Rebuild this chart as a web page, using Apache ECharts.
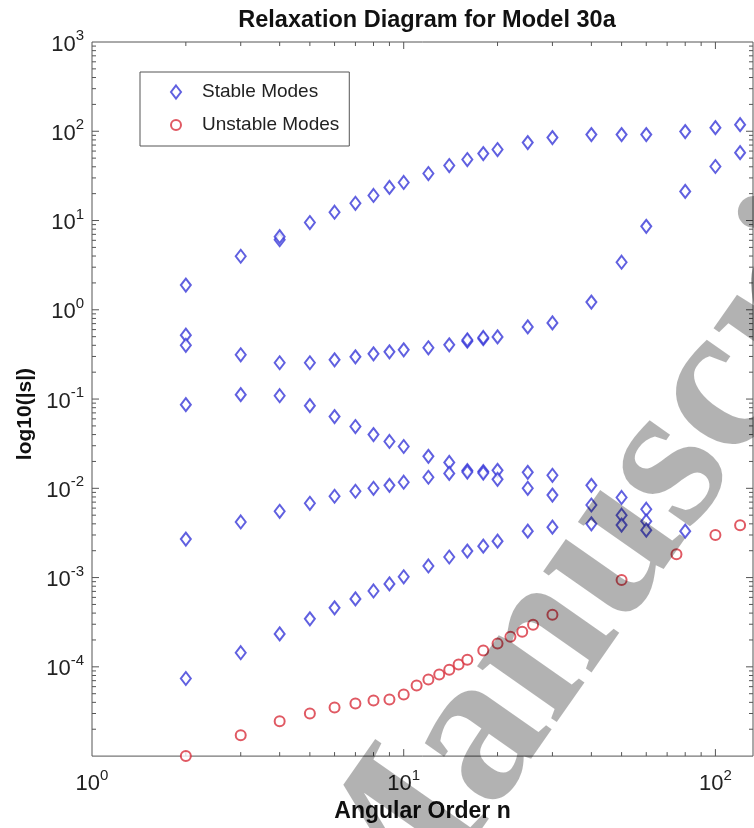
<!DOCTYPE html>
<html>
<head>
<meta charset="utf-8">
<script src="https://cdn.jsdelivr.net/npm/echarts@6/dist/echarts.min.js"></script>
<style>html,body{margin:0;padding:0;background:#fff;}#c{width:754px;height:828px;}</style>
</head>
<body>
<div id="c"></div>
<script>
// ---- data ----
const nA = [2,3,4,4,5,6,7,8,9,10,12,14,16,18,20,25,30,40,50,60,80,100,120];
const sA = [1.89,3.98,6.1,6.6,9.5,12.4,15.6,19.1,23.5,26.7,33.6,41.3,48.2,56.2,62.4,74.7,84.9,91.7,91.7,91.7,99.1,109.7,118.6];

const nB = [2,2,3,4,5,6,7,8,9,10,12,14,16,16,18,18,20,25,30,40,50,60,80,100,120];
const sB = [0.52,0.40,0.313,0.255,0.255,0.275,0.297,0.321,0.338,0.356,0.375,0.405,0.445,0.46,0.475,0.49,0.497,0.643,0.713,1.22,3.41,8.6,21.2,40.3,57.6];

const nC = [2,3,4,5,6,7,8,9,10,12,14,16,18,20,25,30,40,50,60,80];
const sC = [0.0865,0.112,0.109,0.0843,0.0636,0.0492,0.040,0.0335,0.0294,0.0228,0.0195,0.0158,0.0154,0.0159,0.0151,0.0140,0.0108,0.0079,0.00583,0.00331];

const nD = [2,3,4,5,6,7,8,9,10,12,14,16,18,20,25,30,40,50,60];
const sD = [0.0027,0.0042,0.00553,0.0068,0.00815,0.00927,0.0100,0.0108,0.0117,0.0133,0.0147,0.0152,0.0148,0.0126,0.0100,0.0084,0.0065,0.0050,0.00428];

const nE = [2,3,4,5,6,7,8,9,10,12,14,16,18,20,25,30,40,50,60];
const sE = [7.4e-5,1.44e-4,2.34e-4,3.45e-4,4.58e-4,5.77e-4,7.08e-4,8.49e-4,1.02e-3,1.35e-3,1.70e-3,1.98e-3,2.25e-3,2.56e-3,3.31e-3,3.67e-3,4.0e-3,3.87e-3,3.4e-3];

const nU = [2,3,4,5,6,7,8,9,10,11,12,13,14,15,16,18,20,22,24,26,30,50,75,100,120];
const sU = [1.0e-5,1.71e-5,2.45e-5,3.0e-5,3.5e-5,3.88e-5,4.2e-5,4.31e-5,4.9e-5,6.17e-5,7.2e-5,8.2e-5,9.3e-5,1.06e-4,1.2e-4,1.52e-4,1.82e-4,2.17e-4,2.47e-4,2.96e-4,3.83e-4,9.4e-4,1.83e-3,2.99e-3,3.86e-3];

const xDecades = [1,10,100];
const yDecades = [1e-5,1e-4,1e-3,1e-2,1e-1,1,10,100,1000];
const X_MIN = 1, X_MAX = 132;
const Y_MIN = 1e-5, Y_MAX = 1e3;

// ---- build ----
function pairs(n, s){ return n.map((v,i)=>[v, s[i]]); }
const stableData = [].concat(pairs(nA,sA), pairs(nB,sB), pairs(nC,sC), pairs(nD,sD), pairs(nE,sE));
const unstableData = pairs(nU, sU);

// axis ticks (major + minor 2..9 per decade)
const tickData = [];
xDecades.forEach(d=>{
  for(let k=1;k<=9;k++){ const v=d*k; if(v>X_MIN && v<X_MAX) tickData.push([v, Y_MIN, 0, k===1?1:0]); }
});
yDecades.forEach(d=>{
  for(let k=1;k<=9;k++){ const v=d*k; if(v>Y_MIN && v<Y_MAX) tickData.push([X_MIN, v, 1, k===1?1:0]); }
});

function expLabel(v){
  const e = Math.round(Math.log10(v));
  if (Math.abs(Math.log10(v)-e) > 1e-6) return '';
  return '{b|10}{s|' + e + '}';
}
const labelRich = {
  b: {fontSize: 22, fontFamily: 'Liberation Sans', color: '#222', lineHeight: 27, verticalAlign: 'bottom'},
  s: {fontSize: 15, fontFamily: 'Liberation Sans', color: '#222', lineHeight: 15, verticalAlign: 'top'}
};

const chart = echarts.init(document.getElementById('c'), null, {renderer: 'canvas'});
const TICK_COLOR = '#555';
chart.setOption({
  animation: false,
  backgroundColor: '#fff',
  title: {
    text: 'Relaxation Diagram for Model 30a',
    left: 422, top: 4, textAlign: 'center',
    textStyle: {fontFamily: 'Liberation Sans', fontSize: 23.5, fontWeight: 'bold', color: '#111'}
  },
  legend: {
    orient: 'vertical', left: 140, top: 72,
    padding: [10, 10, 11, 30],
    itemWidth: 10, itemHeight: 13, itemGap: 13,
    borderColor: '#555', borderWidth: 1, backgroundColor: '#fff',
    textStyle: {fontFamily: 'Liberation Sans', fontSize: 19, color: '#222', lineHeight: 20, padding: [0,0,0,16]},
    data: ['Stable Modes', 'Unstable Modes']
  },
  grid: {left: 92, right: 1, top: 42, bottom: 69, show: true, borderColor: '#555', borderWidth: 1, containLabel: false},
  xAxis: {
    type: 'log', min: X_MIN, max: X_MAX, logBase: 10,
    name: 'Angular Order n', nameLocation: 'middle', nameGap: 39,
    nameTextStyle: {fontFamily: 'Liberation Sans', fontSize: 23, fontWeight: 'bold', color: '#111'},
    axisLine: {show: false}, axisTick: {show: false}, splitLine: {show: false}, minorTick: {show: false},
    axisLabel: {margin: 12, formatter: expLabel, rich: labelRich, showMaxLabel: false}
  },
  yAxis: {
    type: 'log', min: Y_MIN, max: Y_MAX, logBase: 10,
    name: 'log10(|s|)', nameLocation: 'middle', nameGap: 56, nameRotate: 90,
    nameTextStyle: {fontFamily: 'Liberation Sans', fontSize: 21, fontWeight: 'bold', color: '#111', padding: [0, 30, 0, 0]},
    axisLine: {show: false}, axisTick: {show: false}, splitLine: {show: false},
    axisLabel: {margin: 8, formatter: expLabel, rich: labelRich, showMinLabel: false}
  },
  series: [
    {
      type: 'custom', name: 'ticks', silent: true, clip: false, z: 1,
      encode: {x: 0, y: 1},
      data: tickData,
      renderItem: function(params, api){
        const kind = api.value(2), major = api.value(3);
        const len = major ? 7 : 4;
        const st = {stroke: TICK_COLOR, lineWidth: 1};
        if (kind === 0) {
          const v = api.value(0);
          const pb = api.coord([v, Y_MIN]), pt = api.coord([v, Y_MAX]);
          return {type: 'group', children: [
            {type: 'line', shape: {x1: pb[0], y1: pb[1], x2: pb[0], y2: pb[1]-len}, style: st},
            {type: 'line', shape: {x1: pt[0], y1: pt[1], x2: pt[0], y2: pt[1]+len}, style: st}
          ]};
        } else {
          const v = api.value(1);
          const pl = api.coord([X_MIN, v]), pr = api.coord([X_MAX, v]);
          return {type: 'group', children: [
            {type: 'line', shape: {x1: pl[0], y1: pl[1], x2: pl[0]+len, y2: pl[1]}, style: st},
            {type: 'line', shape: {x1: pr[0], y1: pr[1], x2: pr[0]-len, y2: pr[1]}, style: st}
          ]};
        }
      }
    },
    {
      type: 'scatter', name: 'Stable Modes', data: stableData, clip: false, z: 3,
      symbol: 'emptyDiamond', symbolSize: [10, 13],
      itemStyle: {color: '#3838d8', borderColor: '#3838d8', borderWidth: 1.7}
    },
    {
      type: 'scatter', name: 'Unstable Modes', data: unstableData, clip: false, z: 3,
      symbol: 'emptyCircle', symbolSize: 10,
      itemStyle: {color: '#d8303c', borderColor: '#d8303c', borderWidth: 1.7}
    }
  ],
  graphic: [{
    type: 'text', z: 100, silent: true,
    x: 333, y: 946, rotation: 55 * Math.PI / 180,
    style: {text: 'Manuscript', font: 'bold 212px "Liberation Serif"', fill: 'rgba(0,0,0,0.3)', align: 'left', verticalAlign: 'middle'}
  }]
});
</script>
</body>
</html>
